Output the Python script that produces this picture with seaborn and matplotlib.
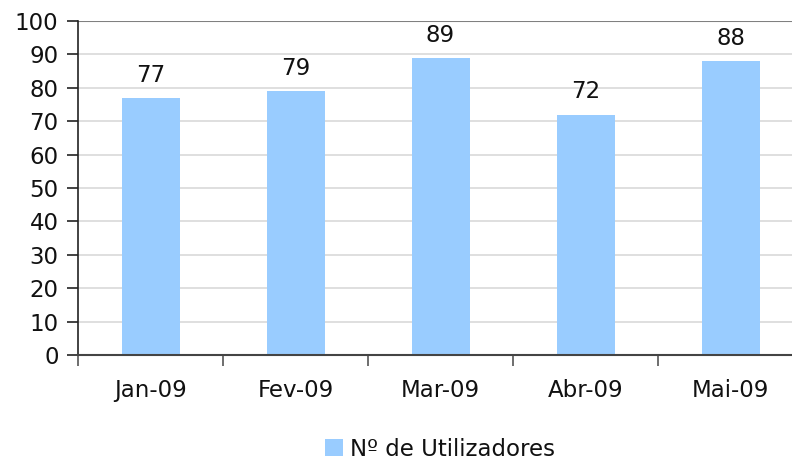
import matplotlib
matplotlib.use("Agg")
import matplotlib.pyplot as plt
import seaborn as sns
import pandas as pd
from matplotlib.patches import Patch

months = ["Jan-09", "Fev-09", "Mar-09", "Abr-09", "Mai-09"]
users = [77, 79, 89, 72, 88]
series_name = "Nº de Utilizadores"
y_ticks = list(range(0, 101, 10))

bar_color = "#99CCFF"
fs = 16.5

sns.set_style("white")
plt.rcParams["font.family"] = ["DejaVu Sans"]
plt.rcParams["text.color"] = "#111111"
plt.rcParams["xtick.labelcolor"] = "#111111"
plt.rcParams["ytick.labelcolor"] = "#111111"

df = pd.DataFrame({"Mês": months, "Utilizadores": users})

fig = plt.figure(figsize=(7.92, 4.61), dpi=100)
ax = fig.add_axes([78 / 792, 1 - 355 / 461, 725 / 792, 334 / 461])

sns.barplot(data=df, x="Mês", y="Utilizadores", color=bar_color, width=0.4,
            saturation=1, linewidth=0, ax=ax)

ax.set_ylim(0, 100)
ax.set_xlim(-0.5, len(months) - 0.5)
ax.set_yticks(y_ticks)
ax.set_xlabel("")
ax.set_ylabel("")

for y in y_ticks[1:-1]:
    ax.axhline(y, color="#D9D9D9", lw=1.2, zorder=0)
ax.axhline(100, color="#808080", lw=1.5, zorder=0)

for i, v in enumerate(users):
    ax.text(i, v + 3.3, str(v), ha="center", va="bottom", fontsize=fs)

for s in ["top", "right"]:
    ax.spines[s].set_visible(False)
ax.spines["left"].set_color("#222222")
ax.spines["bottom"].set_color("#444444")
ax.spines["left"].set_linewidth(1.2)
ax.spines["bottom"].set_linewidth(1.5)

ax.tick_params(axis="y", length=8, width=1.2, color="#222222", labelsize=fs,
               pad=6, direction="out", left=True)
ax.set_xticks(range(len(months)))
ax.set_xticklabels(months)
ax.set_xticks([i - 0.5 for i in range(len(months) + 1)], minor=True)
ax.tick_params(axis="x", which="major", length=0, labelsize=fs, pad=17)
ax.tick_params(axis="x", which="minor", length=8, width=1.2, color="#555555",
               direction="out", bottom=True)

handle = Patch(facecolor=bar_color, edgecolor="none")
fig.legend([handle], [series_name], loc="center", bbox_to_anchor=(440 / 792, 1 - 449 / 461),
           frameon=False, fontsize=fs, handlelength=0.75, handleheight=0.75,
           handletextpad=0.3)

fig.savefig("out.png", dpi=100)
